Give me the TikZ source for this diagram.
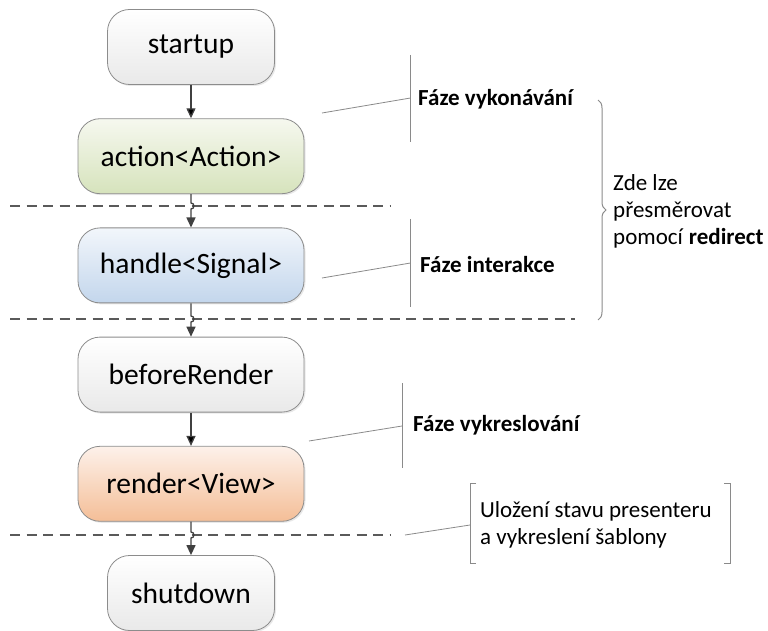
\documentclass[tikz,border=0pt]{standalone}
\usepackage{fontspec}
\setmainfont{Carlito}
\usetikzlibrary{arrows.meta,positioning,shadows,decorations.pathreplacing}

\definecolor{edgegray}{HTML}{404040}
\definecolor{rimgray}{HTML}{8C8C8C}
\definecolor{cutgray}{HTML}{5A5A5A}
\definecolor{notegray}{HTML}{8A8A8A}
\definecolor{plainbot}{HTML}{E9E9E9}
\definecolor{greentop}{HTML}{F6F8EF}
\definecolor{greenbot}{HTML}{D6E3BC}
\definecolor{bluetop}{HTML}{F2F6FB}
\definecolor{bluebot}{HTML}{C3D6EC}
\definecolor{orangetop}{HTML}{FDF1EA}
\definecolor{orangebot}{HTML}{F4BE97}

\tikzset{
  phase/.style={rectangle, rounded corners=22pt, draw=rimgray, line width=0.8pt,
    minimum height=75pt, inner sep=0pt, font=\fontsize{29.5}{35}\selectfont,
    drop shadow={opacity=0.18, shadow xshift=1.5pt, shadow yshift=-1.5pt}},
  narrow/.style={phase, minimum width=167pt, top color=white, bottom color=plainbot},
  wide/.style={phase, minimum width=226pt},
  plainfill/.style={top color=white, bottom color=plainbot},
  greenfill/.style={top color=greentop, bottom color=greenbot},
  bluefill/.style={top color=bluetop, bottom color=bluebot},
  orangefill/.style={top color=orangetop, bottom color=orangebot},
  flow/.style={->, draw=edgegray, line width=1.3pt},
  cut/.style={draw=cutgray, line width=1.3pt, dash pattern=on 10pt off 6.5pt},
  callout/.style={draw=notegray, line width=0.8pt},
  note/.style={anchor=west, inner sep=0pt, align=left, font=\fontsize{23}{27}\selectfont},
  notebold/.style={note, font=\fontsize{23}{27}\selectfont\bfseries}
}

\begin{document}
\begin{tikzpicture}[x=1pt,y=1pt,>={Triangle[length=10pt,width=9pt]},node distance=109.2pt]
  \useasboundingbox (0,0) rectangle (768,630);

  % phases of the presenter
  \node[narrow]           (startup)      at (191,583)             {startup};
  \node[wide,greenfill]   (action)       [below of=startup]       {action<Action>};
  \node[wide,bluefill]    (handle)       [below of=action]        {handle<Signal>};
  \node[wide,plainfill]   (beforeRender) [below of=handle]        {beforeRender};
  \node[wide,orangefill]  (render)       [below of=beforeRender]  {render<View>};
  \node[narrow]           (shutdown)     [below of=render]        {shutdown};

  % dashed separators
  \coordinate (cut1) at (191,424);
  \coordinate (cut2) at (191,311);
  \coordinate (cut3) at (191,95);
  \draw[cut] (10,424) -- (390,424);
  \draw[cut] (10,311) -- (575,311);
  \draw[cut] (10,95)  -- (390,95);

  % arrows
  \path[flow]
        (startup) edge (action)
        (beforeRender) edge (render);
  \draw[flow] (action.south) -- ([yshift=3pt]cut1)
        arc[start angle=90, end angle=-90, radius=3pt] -- (handle.north);
  \draw[flow] (handle.south) -- ([yshift=3pt]cut2)
        arc[start angle=90, end angle=-90, radius=3pt] -- (beforeRender.north);
  \draw[flow] (render.south) -- ([yshift=3pt]cut3)
        arc[start angle=90, end angle=-90, radius=3pt] -- (shutdown.north);

  % callouts
  \draw[callout] (410.5,575) -- (410.5,488);
  \coordinate (execfoot) at (322,517);
  \coordinate (execmid)  at (410.5,532);
  \draw[callout] (execfoot) -- (execmid);
  \node[notebold] (execlabel) at (418,531) {Fáze vykonávání};

  \draw[callout] (410.5,411) -- (410.5,323);
  \coordinate (interfoot) at (322,352);
  \coordinate (intermid)  at (410.5,367);
  \draw[callout] (interfoot) -- (intermid);
  \node[notebold] (interlabel) at (420,365) {Fáze interakce};

  \draw[callout] (402,247) -- (402,162);
  \coordinate (drawfoot) at (309,189);
  \coordinate (drawmid)  at (402,204);
  \draw[callout] (drawfoot) -- (drawmid);
  \node[notebold] (drawlabel) at (413,205) {Fáze vykreslování};

  \draw[callout] (476,147) -- (470,147) -- (470,67) -- (476,67);
  \draw[callout] (724,147) -- (730,147) -- (730,67) -- (724,67);
  \coordinate (savefoot) at (405,95);
  \coordinate (savemid)  at (470,105);
  \draw[callout] (savefoot) -- (savemid);
  \node[note] (savelabel) at (480,105) {Uložení stavu presenteru\\a vykreslení šablony};

  % brace over the redirectable part
  \draw[draw=notegray, line width=1pt, decorate, decoration={brace, amplitude=8pt}]
        (598,530) -- (598,310);
  \node[note] (redirlabel) at (613,419) {Zde lze\\přesměrovat\\pomocí \textbf{redirect}};
\end{tikzpicture}
\end{document}
